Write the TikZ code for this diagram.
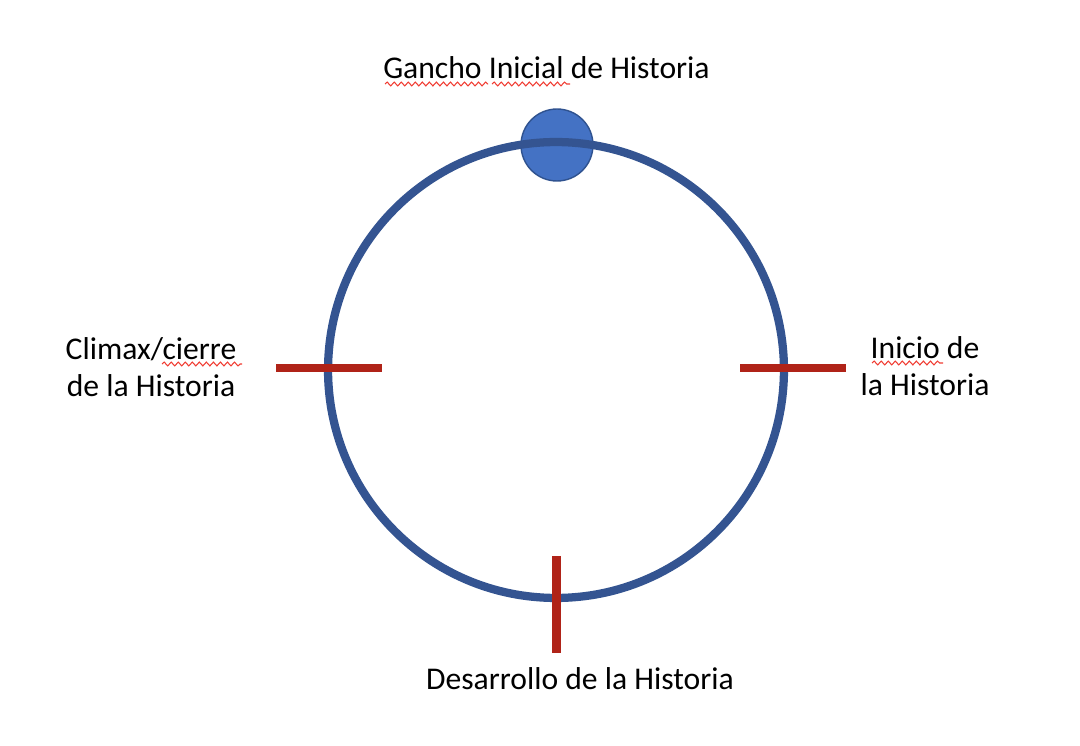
\documentclass[tikz,border=0pt]{standalone}
\usepackage{fontspec}
\setmainfont{Carlito}
\usetikzlibrary{decorations.pathmorphing}
\definecolor{ringblue}{RGB}{52,84,145}
\definecolor{dotblue}{HTML}{4472C4}
\definecolor{dotedge}{HTML}{2F528F}
\definecolor{tickred}{RGB}{176,35,24}
\definecolor{spellred}{RGB}{240,60,50}

\begin{document}
\begin{tikzpicture}[x=0.02cm, y=-0.02cm,
  every node/.style={font=\fontsize{18}{21.5}\selectfont, inner sep=0pt},
  tick/.style={tickred, line width=5pt},
  squiggle/.style={spellred, line width=0.6pt, decorate,
    decoration={snake, amplitude=1.1pt, segment length=4pt}}]
  \useasboundingbox (0,0) rectangle (1080,746);

  \def\rad{4.56cm}
  \coordinate (O) at (556,370);
  \coordinate (top) at (557,145);
  \draw[dotedge, fill=dotblue, line width=0.8pt] (top) circle (0.72cm);
  \draw[ringblue, line width=4.7pt] (O) circle (\rad);

  % marks on the ring
  \draw[tick] (276,368) -- (382,368);
  \draw[tick] (740,368) -- (846,368);
  \draw[tick] (556.5,556) -- (556.5,653);

  \node[anchor=base] (gancho) at (546.5,79) {Gancho Inicial de Historia};
  \node[anchor=base, align=center] (climax) at (151,397) {Climax/cierre\\de la Historia};
  \node[anchor=base, align=center] (inicio) at (925,396) {Inicio de\\la Historia};
  \node[anchor=base] (desarrollo) at (580,690) {Desarrollo de la Historia};

  \draw[squiggle] (385,84) -- (488,84);
  \draw[squiggle] (492,84) -- (570,84);
  \draw[squiggle] (162,364) -- (242,364);
  \draw[squiggle] (872,363) -- (943,363);
\end{tikzpicture}
\end{document}
